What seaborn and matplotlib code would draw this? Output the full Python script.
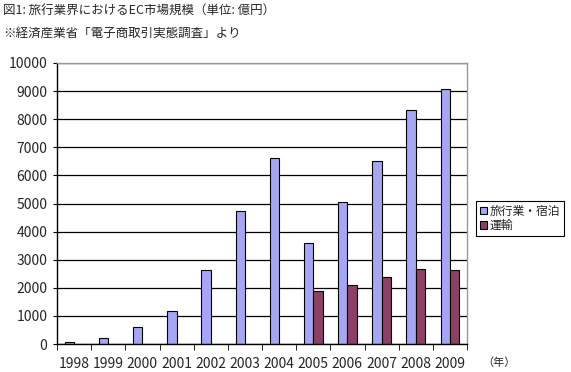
import matplotlib
matplotlib.use('Agg')
import matplotlib.pyplot as plt
import seaborn as sns
import pandas as pd
import numpy as np

years = ['1998', '1999', '2000', '2001', '2002', '2003', '2004',
         '2005', '2006', '2007', '2008', '2009']
travel = [60, 200, 600, 1160, 2620, 4720, 6610, 3580, 5065, 6500, 8320, 9060]
transport = [np.nan, np.nan, np.nan, np.nan, np.nan, np.nan, np.nan,
             1875, 2090, 2370, 2660, 2620]
series = ['旅行業・宿泊', '運輸']
colors = ['#9999FF', '#993366']

df = pd.DataFrame({'year': years, series[0]: travel, series[1]: transport})
df = df.melt(id_vars='year', var_name='kind', value_name='value')

sns.set_style('white')
plt.rcParams['font.family'] = ['Noto Sans CJK JP', 'DejaVu Sans']

fig = plt.figure(figsize=(5.71, 3.72), dpi=100)
ax = fig.add_axes([57 / 571, 1 - 344 / 372, 410 / 571, 281 / 372])

sns.barplot(data=df, x='year', y='value', hue='kind', hue_order=series,
            palette=colors, width=0.55, edgecolor='black', linewidth=0.8,
            ax=ax, legend=True)

ax.set_ylim(0, 10000)
ax.set_xlim(-0.5, len(years) - 0.5)
ax.set_yticks(range(0, 10001, 1000))
ax.set_xlabel('')
ax.set_ylabel('')
ax.yaxis.grid(True, color='black', linewidth=0.9)
ax.set_axisbelow(True)

# tick marks between categories on the x axis
ax.set_xticks(np.arange(len(years)))
ax.set_xticks(np.arange(-0.5, len(years), 1), minor=True)
ax.tick_params(axis='x', which='major', length=0, labelsize=10, pad=9)
ax.tick_params(axis='x', which='minor', length=4, color='black', direction='out', bottom=True)
ax.tick_params(axis='y', length=3, color='black', direction='out', left=True, labelsize=10, pad=4)

for side in ['left', 'bottom']:
    ax.spines[side].set_color('black')
    ax.spines[side].set_linewidth(1)
for side in ['top', 'right']:
    ax.spines[side].set_color('#999999')
    ax.spines[side].set_linewidth(1)

leg = ax.legend(loc='upper left', bbox_to_anchor=(476 / 571, 1 - 201 / 372),
                bbox_transform=fig.transFigure, frameon=True, fancybox=False,
                edgecolor='black', framealpha=1, fontsize=8.5,
                handlelength=0.6, handleheight=0.6, handletextpad=0.25,
                borderpad=0.3, labelspacing=0.15, borderaxespad=0)
leg.get_frame().set_linewidth(0.8)

fig.text(3 / 571, 1 - 10 / 372, '図1: 旅行業界におけるEC市場規模（単位: 億円）',
         fontsize=9, va='center', ha='left')
fig.text(3 / 571, 1 - 33 / 372, '※経済産業省「電子商取引実態調査」より',
         fontsize=9, va='center', ha='left')
fig.text(482 / 571, 1 - 363 / 372, '（年）', fontsize=8, va='center', ha='left')

fig.savefig('out.png', dpi=100)
